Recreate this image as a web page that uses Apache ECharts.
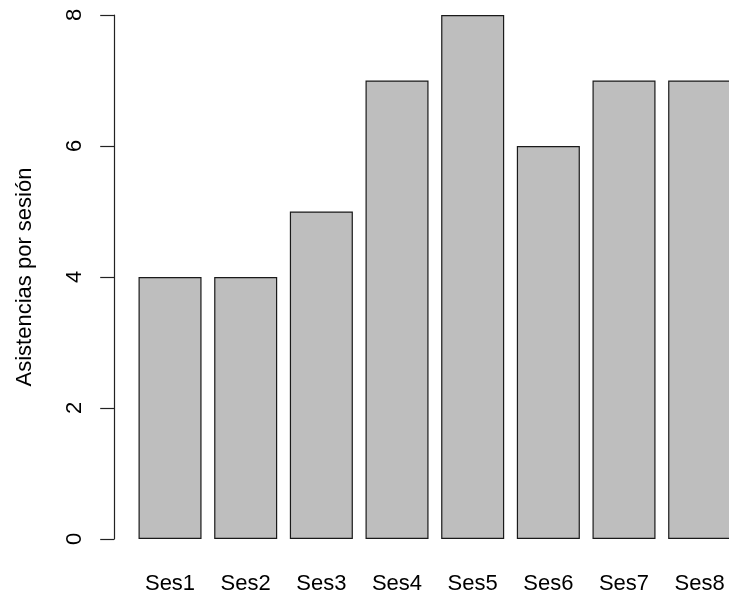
<!DOCTYPE html>
<html>
<head>
<meta charset="utf-8">
<script src="https://cdn.jsdelivr.net/npm/echarts@6/dist/echarts.min.js"></script>
<style>
  html, body { margin: 0; padding: 0; background: #fff; overflow: hidden; width: 729px; height: 602px; }
  #chart { width: 740px; height: 602px; }
</style>
</head>
<body>
<div id="chart"></div>
<script>
const categories = ['Ses1', 'Ses2', 'Ses3', 'Ses4', 'Ses5', 'Ses6', 'Ses7', 'Ses8'];
const asistencias = [4, 4, 5, 7, 8, 6, 7, 7];
const yTicks = [0, 2, 4, 6, 8];
const yTitle = 'Asistencias por sesión';

const chart = echarts.init(document.getElementById('chart'), null, { renderer: 'canvas' });
const font = 'Liberation Sans, Arial, sans-serif';
chart.setOption({
  animation: false,
  backgroundColor: '#ffffff',
  grid: { left: 132.2, width: 605.3, top: 15, bottom: 63, containLabel: false },
  xAxis: {
    type: 'category',
    data: categories,
    axisLine: { show: false },
    axisTick: { show: false },
    axisLabel: { margin: 34, fontSize: 22, color: '#000', fontFamily: font }
  },
  yAxis: {
    type: 'value',
    min: yTicks[0],
    max: yTicks[yTicks.length - 1],
    interval: 2,
    offset: 18,
    name: yTitle,
    nameLocation: 'middle',
    nameGap: 78,
    nameTextStyle: { fontSize: 22, color: '#000', fontFamily: font },
    splitLine: { show: false },
    axisLine: { show: true, lineStyle: { color: '#222', width: 1.2 } },
    axisTick: { show: true, length: 14, lineStyle: { color: '#222', width: 1.2 } },
    axisLabel: { rotate: 90, margin: 28, fontSize: 22, color: '#000', fontFamily: font }
  },
  series: [{
    type: 'bar',
    data: asistencias,
    barWidth: '83.3%',
    itemStyle: { color: '#bebebe', borderColor: '#1a1a1a', borderWidth: 1.2 }
  }]
});
</script>
</body>
</html>
